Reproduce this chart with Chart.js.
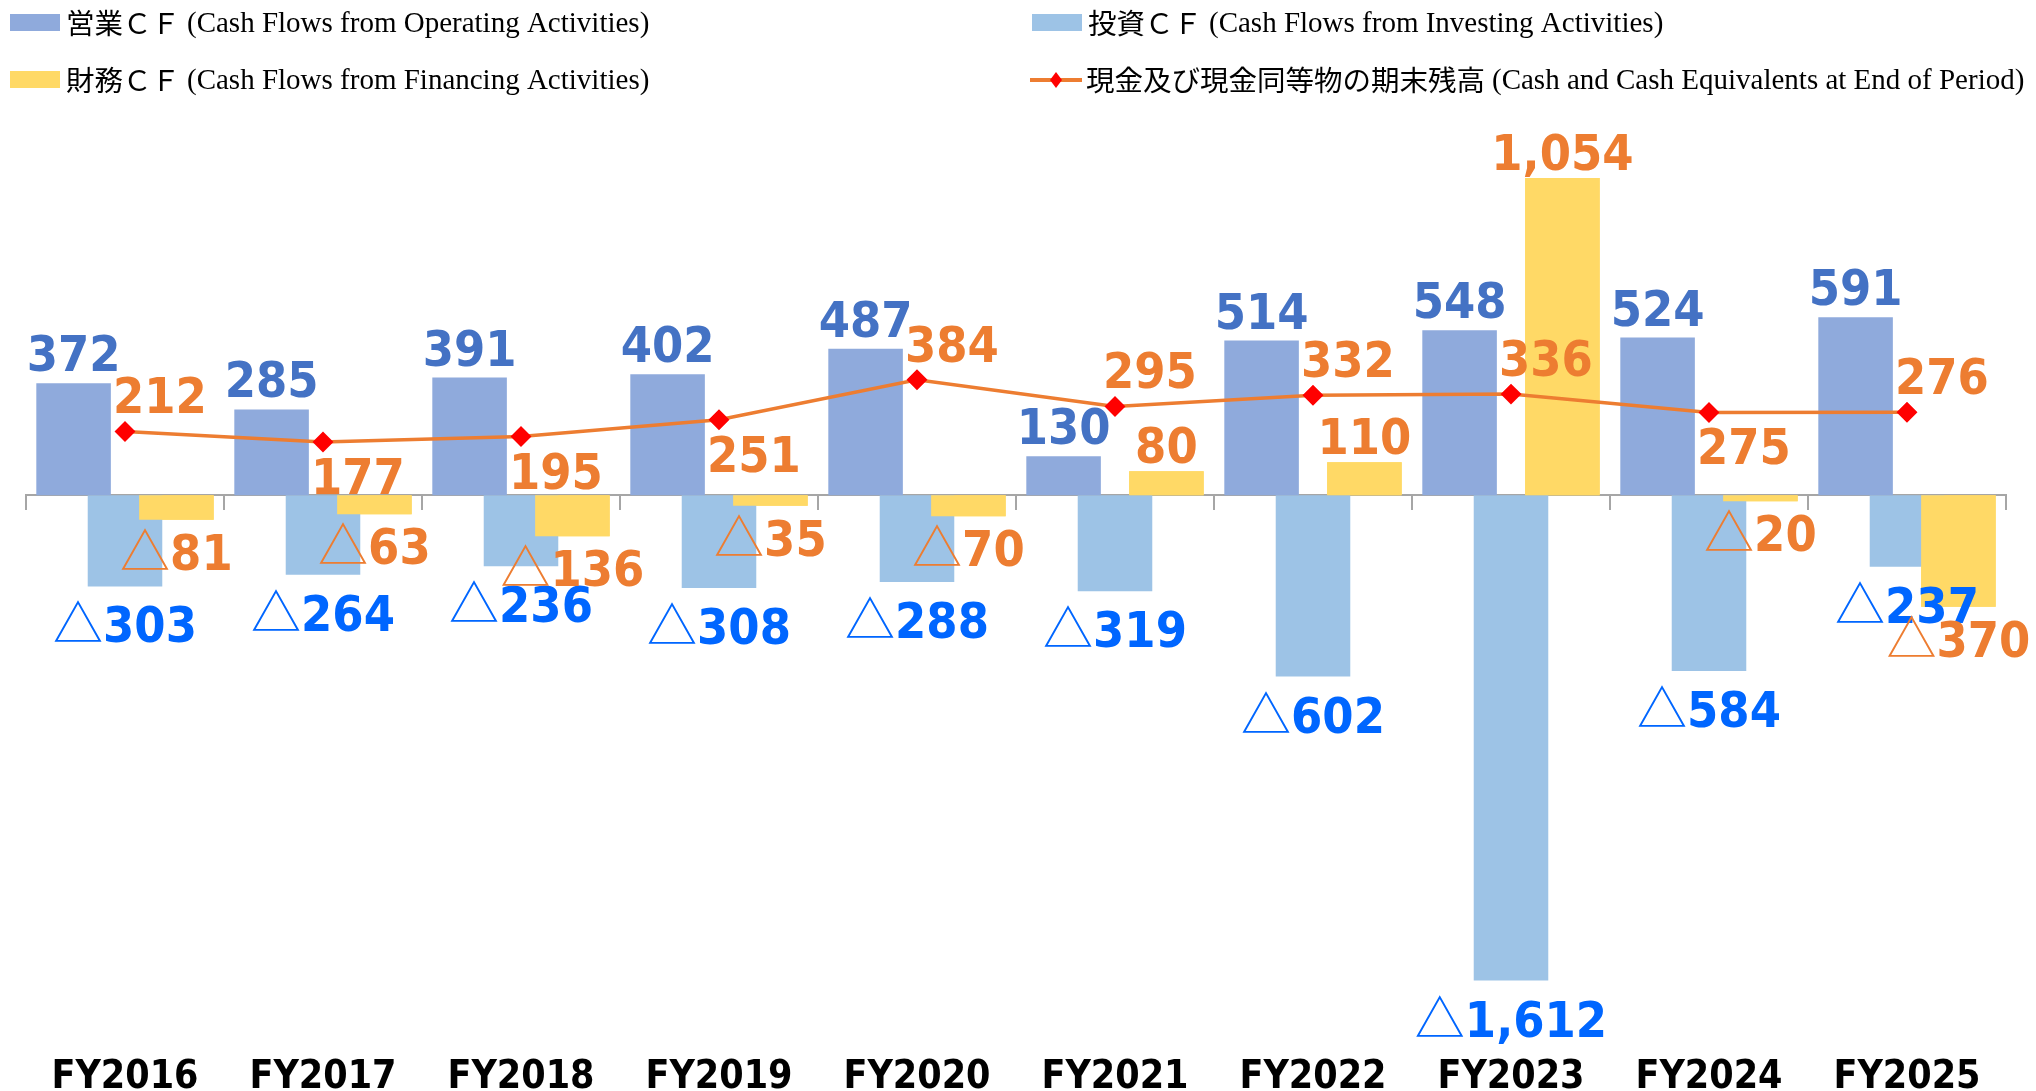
<!DOCTYPE html>
<html><head><meta charset="utf-8">
<script src="https://cdn.jsdelivr.net/npm/chart.js@4.4.1/dist/chart.umd.min.js"></script>
<style>html,body{margin:0;padding:0;background:#fff;} #wrap{position:relative;width:2036px;height:1091px;}</style>
</head><body><div id="wrap"><canvas id="c"></canvas></div>
<script>
// ---- data ----
const categories = ['FY2016','FY2017','FY2018','FY2019','FY2020','FY2021','FY2022','FY2023','FY2024','FY2025'];
const operatingCF = [372, 285, 391, 402, 487, 130, 514, 548, 524, 591];
const investingCF = [-303, -264, -236, -308, -288, -319, -602, -1612, -584, -237];
const financingCF = [-81, -63, -136, -35, -70, 80, 110, 1054, -20, -370];
const cashEnd = [212, 177, 195, 251, 384, 295, 332, 336, 275, 276];
const seriesNames = [
  '営業ＣＦ (Cash Flows from Operating Activities)',
  '投資ＣＦ (Cash Flows from Investing Activities)',
  '財務ＣＦ (Cash Flows from Financing Activities)',
  '現金及び現金同等物の期末残高 (Cash and Cash Equivalents at End of Period)'
];
// label placement for the cash line (style only)
const cashLabelSide = ['above','below','below','below','above','above','above','above','below','above'];

// ---- styles ----
const C_OP = '#8FAADC', C_INV = '#9DC3E6', C_FIN = '#FFD966', C_LINE = '#ED7D31', C_MARK = '#FF0000';
const T_OP = '#4472C4', T_INV = '#0066FF', T_OR = '#ED7D31';
const NUM_FONT = 'bold 50px "DejaVu Sans Condensed", "DejaVu Sans", sans-serif';
const TRI_FONT = '400 50px "Noto Sans CJK JP", sans-serif';
const CAP = 36;

function drawValue(ctx, v, x, y, align, color) {
  const neg = v < 0;
  const num = Math.abs(v).toLocaleString('en-US');
  ctx.font = NUM_FONT;
  const wn = ctx.measureText(num).width;
  let wt = 0;
  if (neg) { ctx.font = TRI_FONT; wt = ctx.measureText('△').width; }
  const total = wn + wt;
  const x0 = align === 'center' ? x - total / 2 : (align === 'left' ? x : x - total);
  ctx.fillStyle = color;
  ctx.textAlign = 'left';
  ctx.textBaseline = 'alphabetic';
  if (neg) { ctx.font = TRI_FONT; ctx.fillText('△', x0, y); }
  ctx.font = NUM_FONT;
  ctx.fillText(num, x0 + wt, y);
}

const finOnTop = {
  id: 'finOnTop',
  afterDatasetDraw(chart, args) {
    if (args.index === 1) chart.getDatasetMeta(2).controller.draw();
  }
};

const valueLabels = {
  id: 'valueLabels',
  afterDatasetsDraw(chart) {
    const ctx = chart.ctx;
    ctx.save();
    const mOp = chart.getDatasetMeta(0), mInv = chart.getDatasetMeta(1), mFin = chart.getDatasetMeta(2), mCash = chart.getDatasetMeta(3);
    categories.forEach((c, i) => {
      let el = mOp.data[i];
      drawValue(ctx, operatingCF[i], el.x, el.y - 12, 'center', T_OP);
      el = mInv.data[i];
      drawValue(ctx, investingCF[i], el.x, el.y + 20 + CAP, 'center', T_INV);
      el = mFin.data[i];
      if (financingCF[i] >= 0) drawValue(ctx, financingCF[i], el.x, el.y - 8, 'center', T_OR);
      else drawValue(ctx, financingCF[i], el.x, el.y + 14 + CAP, 'center', T_OR);
      el = mCash.data[i];
      if (cashLabelSide[i] === 'above') drawValue(ctx, cashEnd[i], el.x - 12, el.y - 18, 'left', T_OR);
      else drawValue(ctx, cashEnd[i], el.x - 12, el.y + 16 + CAP, 'left', T_OR);
    });
    ctx.restore();
  }
};

const customLegend = {
  id: 'customLegend',
  afterDraw(chart) {
    const ctx = chart.ctx;
    ctx.save();
    const items = [
      {ds: 0, x: 10, y: 23}, {ds: 1, x: 1032, y: 23},
      {ds: 2, x: 10, y: 80}, {ds: 3, x: 1030, y: 80}
    ];
    items.forEach(it => {
      const ds = chart.data.datasets[it.ds];
      if (ds.type === 'line') {
        ctx.strokeStyle = ds.borderColor; ctx.lineWidth = 4;
        ctx.beginPath(); ctx.moveTo(it.x, it.y); ctx.lineTo(it.x + 52, it.y); ctx.stroke();
        ctx.fillStyle = ds.pointBackgroundColor;
        const cx = it.x + 26, r = 8;
        ctx.beginPath(); ctx.moveTo(cx, it.y - r); ctx.lineTo(cx + r * 0.75, it.y); ctx.lineTo(cx, it.y + r); ctx.lineTo(cx - r * 0.75, it.y); ctx.closePath(); ctx.fill();
      } else {
        ctx.fillStyle = ds.backgroundColor;
        ctx.fillRect(it.x, it.y - 9, 50, 17);
      }
      const txt = ds.label;
      const k = txt.indexOf(' (');
      const jp = txt.slice(0, k), en = txt.slice(k + 1);
      let tx = it.x + 56;
      ctx.fillStyle = '#000';
      ctx.textBaseline = 'middle'; ctx.textAlign = 'left';
      ctx.font = '400 28.5px "Noto Sans CJK JP", sans-serif';
      ctx.fillText(jp, tx, it.y);
      tx += ctx.measureText(jp).width + 7;
      ctx.font = '29px "Liberation Serif", serif';
      ctx.fillText(en, tx, it.y + 1);
    });
    ctx.restore();
  }
};

const LBL_FONT = {family: '"DejaVu Sans Condensed", "DejaVu Sans", sans-serif', size: 39, weight: 'bold'};

new Chart(document.getElementById('c'), {
  type: 'bar',
  data: {
    labels: categories,
    datasets: [
      {label: seriesNames[0], data: operatingCF, backgroundColor: C_OP, order: 1, categoryPercentage: 0.779, barPercentage: 1.45},
      {label: seriesNames[1], data: investingCF, backgroundColor: C_INV, order: 2, categoryPercentage: 0.779, barPercentage: 1.45},
      {label: seriesNames[2], data: financingCF, backgroundColor: C_FIN, order: 3, categoryPercentage: 0.779, barPercentage: 1.45},
      {label: seriesNames[3], data: cashEnd, type: 'line', order: 0, borderColor: C_LINE, borderWidth: 3.5,
        pointStyle: 'rectRot', pointRadius: 8, pointBackgroundColor: C_MARK, pointBorderColor: C_MARK, tension: 0, fill: false}
    ]
  },
  options: {
    responsive: true,
    maintainAspectRatio: false,
    animation: false,
    devicePixelRatio: 1,
    layout: {padding: {top: 134, left: 26, right: 30, bottom: -24}},
    plugins: {legend: {display: false}, tooltip: {enabled: false}},
    scales: {
      x: {type: 'category', offset: true, grid: {display: false, drawTicks: false}, border: {display: false},
          ticks: {color: '#000', font: LBL_FONT, padding: 14, maxRotation: 0, autoSkip: false}},
      xz: {type: 'category', position: {y: 0}, offset: true,
           grid: {display: true, offset: true, drawOnChartArea: false, drawTicks: true, tickLength: 14, color: '#A6A6A6', lineWidth: 2},
           border: {display: true, color: '#A6A6A6', width: 2}, ticks: {display: false}},
      y: {display: false, min: -1810, max: 1200}
    }
  },
  plugins: [finOnTop, valueLabels, customLegend]
});
</script>
</body></html>
